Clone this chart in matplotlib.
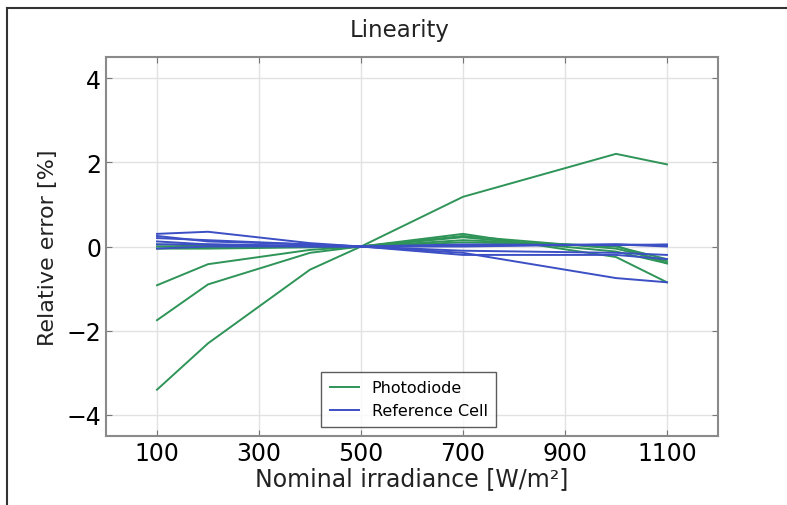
import numpy as np
import matplotlib
matplotlib.use("Agg")
import matplotlib.pyplot as plt
from matplotlib.lines import Line2D

# nominal irradiance levels [W/m2]
irradiance = [100, 200, 400, 500, 700, 1000, 1100]

# relative error [%] of the photodiode runs
photodiode = [
    [-3.4, -2.3, -0.55, 0, 1.18, 2.2, 1.95],
    [-1.75, -0.9, -0.15, 0, 0.3, -0.25, -0.85],
    [-0.92, -0.42, -0.08, 0, 0.22, -0.12, -0.4],
    [-0.05, -0.05, -0.02, 0, 0.25, -0.05, -0.35],
    [0.0, -0.02, 0.0, 0, 0.15, 0.0, -0.3],
    [0.05, 0.02, 0.01, 0, 0.1, 0.02, -0.4],
]

# relative error [%] of the reference cell runs
reference_cell = [
    [0.3, 0.35, 0.08, 0, -0.15, -0.75, -0.85],
    [0.25, 0.12, 0.05, 0, -0.2, -0.2, -0.3],
    [0.2, 0.15, 0.05, 0, -0.1, -0.15, -0.2],
    [0.12, 0.05, 0.02, 0, 0.02, 0.05, 0.03],
    [0.05, 0.05, 0.0, 0, 0.05, 0.03, 0.05],
    [-0.05, 0.0, 0.0, 0, 0.0, 0.05, 0.0],
]

green = '#2f9458'
blue = '#3c4fc4'

fig = plt.figure(figsize=(7.87, 5.06), dpi=100)
ax = fig.add_axes([106 / 787, 1 - 437 / 506, (718 - 106) / 787, (437 - 58) / 506])

for series in photodiode:
    ax.plot(irradiance, series, color=green, lw=1.4)
for series in reference_cell:
    ax.plot(irradiance, series, color=blue, lw=1.4)

ax.set_xlim(0, 1200)
ax.set_ylim(-4.5, 4.5)
ax.set_xticks([100, 300, 500, 700, 900, 1100])
ax.set_yticks([-4, -2, 0, 2, 4])
ax.tick_params(direction='in', top=True, right=True, labelsize=17, length=4, color='#777777')
ax.grid(True, color='#e2e2e2', lw=1, ls='-')
ax.set_axisbelow(True)
for sp in ax.spines.values():
    sp.set_color('#8a8a8a')
    sp.set_linewidth(1.5)

ax.set_xlabel('Nominal irradiance [W/m²]', fontsize=17, color='#222222', labelpad=1)
ax.set_ylabel('Relative error [%]', fontsize=16, color='#222222', labelpad=6)
fig.text(400 / 787, 1 - 31 / 506, 'Linearity', fontsize=16.5, ha='center', va='center', color='#222222')

handles = [Line2D([], [], color=green, lw=1.4), Line2D([], [], color=blue, lw=1.4)]
leg = ax.legend(handles, ['Photodiode', 'Reference Cell'], loc='lower center',
                bbox_to_anchor=(0.495, 0.0), borderaxespad=0.55, fontsize=11.5, fancybox=False,
                edgecolor='#333333', handlelength=1.8, borderpad=0.55, labelspacing=0.5)
leg.get_frame().set_linewidth(1.0)

# frame of the screenshot: top and left border
fig.add_artist(Line2D([7 / 787, 7 / 787], [0, 1 - 9 / 506], transform=fig.transFigure, color='#333333', lw=1.5))
fig.add_artist(Line2D([7 / 787, 1], [1 - 9 / 506, 1 - 9 / 506], transform=fig.transFigure, color='#333333', lw=1.5))

fig.savefig('out.png', dpi=100)
